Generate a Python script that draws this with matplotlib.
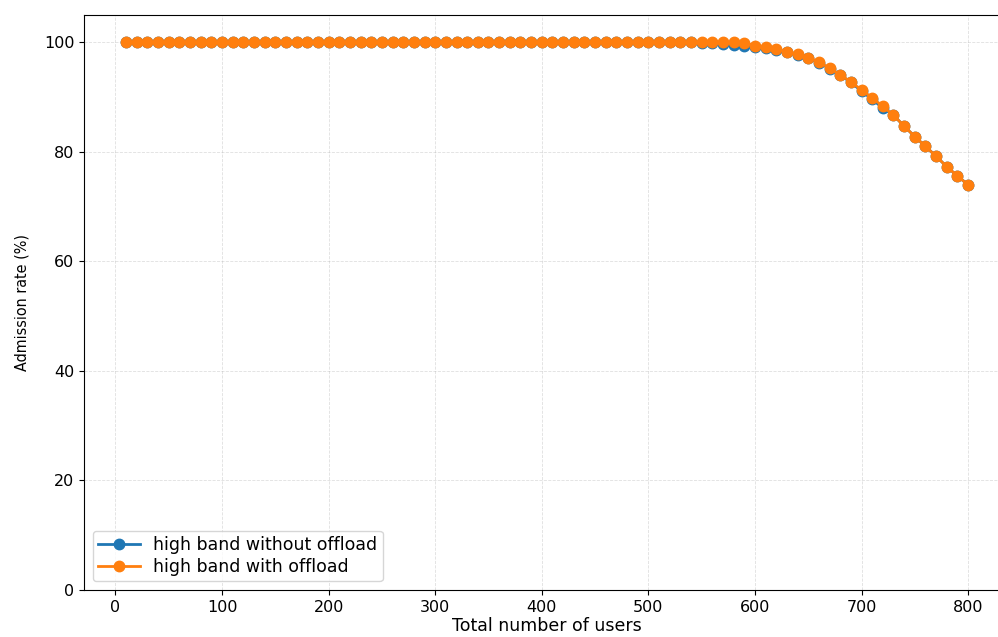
import numpy as np
import matplotlib
matplotlib.use("Agg")
import matplotlib.pyplot as plt

# number of users per run
users = list(range(10, 810, 10))

# admission rate (%) for the high band, from 550 users onwards
tail_users = list(range(550, 810, 10))
no_offload_tail = [99.9, 99.8, 99.7, 99.5, 99.3, 99.1, 98.9, 98.6, 98.2, 97.7,
                   97.1, 96.3, 95.2, 94.0, 92.7, 91.1, 89.6, 88.0, 86.7, 84.7,
                   82.8, 81.0, 79.2, 77.3, 75.6, 74.0]
offload_tail = [100.0, 100.0, 100.0, 100.0, 99.9, 99.4, 99.1, 98.7, 98.3, 97.8,
                97.2, 96.4, 95.3, 94.1, 92.8, 91.3, 89.9, 88.3, 86.7, 84.7,
                82.8, 81.0, 79.2, 77.3, 75.6, 74.0]

head = [100.0] * (len(users) - len(tail_users))
no_offload = head + no_offload_tail
offload = head + offload_tail

fig = plt.figure(figsize=(9.98, 6.37), dpi=100)
ax = fig.add_axes([0.0842, 0.0738, 0.928, 0.9027])

ax.plot(users, no_offload, marker="o", markersize=7.5, linewidth=2,
        color="#1f77b4", label="high band without offload")
ax.plot(users, offload, marker="o", markersize=7.5, linewidth=2,
        color="#ff7f0e", label="high band with offload")

ax.set_xlim(-29.5, 839.5)
ax.set_ylim(0, 105)
ax.set_xticks([0, 100, 200, 300, 400, 500, 600, 700, 800])
ax.set_yticks([0, 20, 40, 60, 80, 100])
ax.tick_params(labelsize=11.5)
ax.spines["right"].set_visible(False)
ax.set_xlabel("Total number of users", fontsize=12.5, labelpad=2)
ax.set_ylabel("Admission rate (%)", fontsize=11.5, fontstretch="condensed", labelpad=10)
ax.grid(True, linestyle="--", linewidth=0.6, alpha=0.4)
ax.legend(loc="lower left", fontsize=12.5, labelspacing=0.25, borderpad=0.3,
          handlelength=2.4)

fig.savefig("out.png", dpi=100)
